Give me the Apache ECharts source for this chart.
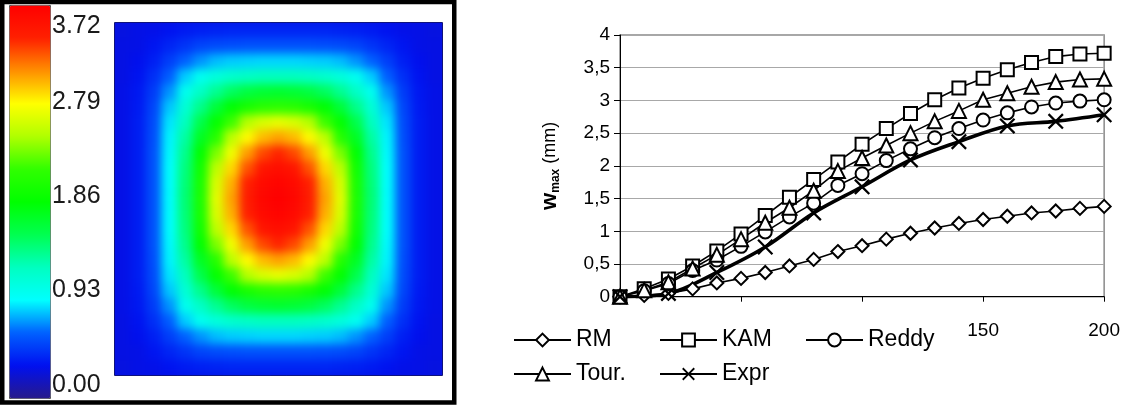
<!DOCTYPE html>
<html>
<head>
<meta charset="utf-8">
<script src="https://cdn.jsdelivr.net/npm/echarts@6.0.0/dist/echarts.min.js"></script>
<style>
html, body { margin: 0; padding: 0; background: #fff; }
#wrap { position: relative; width: 1123px; height: 405px; }
#main { position: absolute; left: 0; top: 0; width: 1123px; height: 405px; }
#fieldClip { position: absolute; left: 115px; top: 23px; width: 327px; height: 352px; overflow: hidden; pointer-events: none; }
#field { position: absolute; left: -24px; top: -24px; width: 375px; height: 400px; filter: blur(5px); }
</style>
</head>
<body>
<div id="wrap">
  <div id="main"></div>
  <div id="fieldClip"><div id="field"></div></div>
</div>
<script>
// deflection field of the plate (mm), 23 rows x 21 columns, top row first
var field = [
  [0.26,0.28,0.29,0.32,0.35,0.37,0.38,0.39,0.39,0.39,0.39,0.39,0.39,0.39,0.38,0.37,0.35,0.32,0.29,0.28,0.26],
  [0.27,0.28,0.33,0.39,0.45,0.51,0.54,0.55,0.56,0.56,0.56,0.56,0.56,0.55,0.54,0.51,0.45,0.39,0.33,0.28,0.27],
  [0.27,0.30,0.37,0.49,0.62,0.72,0.80,0.83,0.84,0.85,0.85,0.85,0.84,0.83,0.80,0.72,0.62,0.49,0.37,0.30,0.27],
  [0.27,0.32,0.43,0.61,0.83,1.00,1.10,1.17,1.21,1.24,1.24,1.24,1.21,1.17,1.10,1.00,0.83,0.61,0.43,0.32,0.27],
  [0.28,0.34,0.48,0.72,1.01,1.21,1.37,1.51,1.61,1.66,1.68,1.66,1.61,1.51,1.37,1.21,1.01,0.72,0.48,0.34,0.28],
  [0.28,0.35,0.52,0.82,1.13,1.39,1.64,1.85,2.00,2.11,2.14,2.11,2.00,1.85,1.64,1.39,1.13,0.82,0.52,0.35,0.28],
  [0.28,0.36,0.54,0.88,1.24,1.57,1.88,2.20,2.50,2.64,2.70,2.64,2.50,2.20,1.88,1.57,1.24,0.88,0.54,0.36,0.28],
  [0.28,0.36,0.55,0.91,1.32,1.73,2.10,2.54,2.80,2.98,3.05,2.98,2.80,2.54,2.10,1.73,1.32,0.91,0.55,0.36,0.28],
  [0.28,0.36,0.56,0.92,1.38,1.86,2.35,2.74,3.06,3.30,3.40,3.30,3.06,2.74,2.35,1.86,1.38,0.92,0.56,0.36,0.28],
  [0.28,0.36,0.56,0.93,1.42,1.95,2.53,2.90,3.27,3.52,3.58,3.52,3.27,2.90,2.53,1.95,1.42,0.93,0.56,0.36,0.28],
  [0.28,0.36,0.56,0.93,1.44,2.00,2.64,3.01,3.42,3.62,3.68,3.62,3.42,3.01,2.64,2.00,1.44,0.93,0.56,0.36,0.28],
  [0.28,0.36,0.56,0.93,1.45,2.02,2.68,3.05,3.45,3.65,3.72,3.65,3.45,3.05,2.68,2.02,1.45,0.93,0.56,0.36,0.28],
  [0.28,0.36,0.56,0.93,1.44,2.00,2.64,3.01,3.42,3.62,3.68,3.62,3.42,3.01,2.64,2.00,1.44,0.93,0.56,0.36,0.28],
  [0.28,0.36,0.56,0.93,1.42,1.95,2.53,2.90,3.27,3.52,3.58,3.52,3.27,2.90,2.53,1.95,1.42,0.93,0.56,0.36,0.28],
  [0.28,0.36,0.56,0.92,1.38,1.86,2.35,2.74,3.06,3.30,3.40,3.30,3.06,2.74,2.35,1.86,1.38,0.92,0.56,0.36,0.28],
  [0.28,0.36,0.55,0.91,1.32,1.73,2.10,2.54,2.80,2.98,3.05,2.98,2.80,2.54,2.10,1.73,1.32,0.91,0.55,0.36,0.28],
  [0.28,0.36,0.54,0.88,1.24,1.57,1.88,2.20,2.50,2.64,2.70,2.64,2.50,2.20,1.88,1.57,1.24,0.88,0.54,0.36,0.28],
  [0.28,0.35,0.52,0.82,1.13,1.39,1.64,1.85,2.00,2.11,2.14,2.11,2.00,1.85,1.64,1.39,1.13,0.82,0.52,0.35,0.28],
  [0.28,0.34,0.48,0.72,1.01,1.21,1.37,1.51,1.61,1.66,1.68,1.66,1.61,1.51,1.37,1.21,1.01,0.72,0.48,0.34,0.28],
  [0.27,0.32,0.43,0.61,0.83,1.00,1.10,1.17,1.21,1.24,1.24,1.24,1.21,1.17,1.10,1.00,0.83,0.61,0.43,0.32,0.27],
  [0.27,0.30,0.37,0.49,0.62,0.72,0.80,0.83,0.84,0.85,0.85,0.85,0.84,0.83,0.80,0.72,0.62,0.49,0.37,0.30,0.27],
  [0.27,0.28,0.33,0.39,0.45,0.51,0.54,0.55,0.56,0.56,0.56,0.56,0.56,0.55,0.54,0.51,0.45,0.39,0.33,0.28,0.27],
  [0.26,0.28,0.29,0.32,0.35,0.37,0.38,0.39,0.39,0.39,0.39,0.39,0.39,0.39,0.38,0.37,0.35,0.32,0.29,0.28,0.26]
];
var colorbarLabels = ['3.72', '2.79', '1.86', '0.93', '0.00'];

// w_max (mm) against load
var load = [0, 10, 20, 30, 40, 50, 60, 70, 80, 90, 100, 110, 120, 130, 140, 150, 160, 170, 180, 190, 200];
var rm    = [0, 0.02, 0.05, 0.12, 0.21, 0.28, 0.37, 0.47, 0.57, 0.69, 0.78, 0.88, 0.97, 1.05, 1.12, 1.18, 1.23, 1.28, 1.31, 1.35, 1.38];
var kam   = [0, 0.12, 0.27, 0.47, 0.70, 0.96, 1.24, 1.52, 1.79, 2.06, 2.33, 2.57, 2.80, 3.01, 3.19, 3.34, 3.47, 3.58, 3.67, 3.71, 3.72];
var reddy = [0, 0.09, 0.20, 0.40, 0.56, 0.77, 0.99, 1.22, 1.43, 1.70, 1.88, 2.08, 2.26, 2.43, 2.57, 2.70, 2.81, 2.90, 2.96, 2.99, 3.01];
var tour  = [0, 0.10, 0.22, 0.43, 0.64, 0.88, 1.13, 1.36, 1.62, 1.92, 2.12, 2.31, 2.50, 2.68, 2.84, 3.01, 3.11, 3.21, 3.28, 3.32, 3.33];
var loadExpr = [0, 20, 40, 60, 80, 100, 120, 140, 160, 180, 200];
var expr  = [0, 0.05, 0.37, 0.76, 1.28, 1.68, 2.09, 2.37, 2.61, 2.68, 2.78];

var heatData = [];
field.forEach(function (row, r) {
  row.forEach(function (v, c) { heatData.push([c, r, v]); });
});
function pairs(xs, ys) { return xs.map(function (x, i) { return [x, ys[i]]; }); }

var FONT = 'Liberation Sans, Arial, sans-serif';
var crossPath = 'path://M0,1.2L1.2,0L6,4.8L10.8,0L12,1.2L7.2,6L12,10.8L10.8,12L6,7.2L1.2,12L0,10.8L4.8,6Z';
var labelY = [26, 102, 196, 290, 385];
var palette = ['#281a8a', '#0010f0', '#0060ff', '#00ffff', '#00ffc0', '#00ff50', '#00ff00',
               '#30ff00', '#b0ff00', '#ffff00', '#ff9000', '#ff2000', '#ff0000'];

var colsIdx = field[0].map(function (d, i) { return i; });
var rowsIdx = field.map(function (d, i) { return i; });

function lineSeries(name, data, symbol, size) {
  return {
    name: name, type: 'line', xAxisIndex: 1, yAxisIndex: 1,
    data: data, symbol: symbol, symbolSize: size, showAllSymbol: true,
    lineStyle: { color: '#000', width: 1.6 },
    itemStyle: { color: '#000', borderColor: '#000', borderWidth: 1.5 },
    emphasis: { disabled: true }
  };
}

var legendBase = {
  orient: 'vertical', top: 328, padding: 0, itemWidth: 57, itemHeight: 16, itemGap: 10,
  selectedMode: false,
  textStyle: { fontSize: 23, color: '#000', fontFamily: FONT, lineHeight: 24 }
};

var chart = echarts.init(document.getElementById('main'));
var option = {
  animation: false,
  backgroundColor: '#fff',
  textStyle: { fontFamily: FONT },
  grid: [
    { left: 115, top: 23, width: 327, height: 352 },
    { left: 620, top: 35, width: 485, height: 261.7, show: true, borderColor: '#8a8a8a', borderWidth: 1.5 }
  ],
  xAxis: [
    { gridIndex: 0, type: 'category', data: colsIdx, show: false },
    {
      gridIndex: 1, type: 'value', min: 0, max: 200, interval: 50,
      axisLine: { lineStyle: { color: '#000', width: 1 } },
      axisTick: { length: 5, lineStyle: { color: '#000' } },
      axisLabel: {
        margin: 25, fontSize: 19, color: '#000',
        formatter: function (v) { return v >= 150 ? String(v) : ''; }
      },
      splitLine: { show: false }
    }
  ],
  yAxis: [
    { gridIndex: 0, type: 'category', data: rowsIdx, show: false, inverse: true },
    {
      gridIndex: 1, type: 'value', min: 0, max: 4, interval: 0.5,
      axisLine: { show: true, lineStyle: { color: '#000', width: 1 } },
      axisTick: { show: true, length: 6, lineStyle: { color: '#000' } },
      axisLabel: {
        margin: 10, fontSize: 19, color: '#000',
        formatter: function (v) { return String(v).replace('.', ','); }
      },
      splitLine: { show: true, lineStyle: { color: '#a8a8a8', width: 1 } },
      name: '{w|w}{s|max}{n| (mm)}',
      nameLocation: 'middle', nameRotate: 90, nameGap: 58,
      nameTextStyle: {
        rich: {
          w: { fontSize: 22, fontWeight: 'bold', color: '#000', lineHeight: 24, fontFamily: FONT },
          s: { fontSize: 12, fontWeight: 'bold', color: '#000', lineHeight: 12, verticalAlign: 'bottom', fontFamily: FONT },
          n: { fontSize: 18, color: '#000', lineHeight: 24, fontFamily: FONT }
        }
      }
    }
  ],
  visualMap: {
    type: 'continuous', seriesIndex: 0, min: 0, max: 3.72, calculable: false,
    left: 9, top: 5, itemWidth: 41, itemHeight: 393, padding: 0,
    borderColor: '#555', borderWidth: 1, text: null, showLabel: false,
    inRange: { color: palette }
  },
  legend: [
    Object.assign({ data: ['RM', 'Tour.'], left: 513 }, legendBase),
    Object.assign({ data: ['KAM', 'Expr'], left: 659 }, legendBase),
    Object.assign({ data: ['Reddy'], left: 805 }, legendBase)
  ],
  graphic: [
    { type: 'rect', shape: { x: 2.25, y: 2, width: 452, height: 400.5 },
      style: { fill: 'none', stroke: '#000', lineWidth: 4.5 }, silent: true },
    { type: 'rect', shape: { x: 114.5, y: 22.5, width: 328, height: 353 },
      style: { fill: 'none', stroke: '#14145a', lineWidth: 1 }, silent: true }
  ].concat(colorbarLabels.map(function (t, i) {
    return { type: 'text', x: 52, y: labelY[i], silent: true,
      style: { text: t, fontSize: 25, fill: '#1a1a1a', fontFamily: FONT, verticalAlign: 'middle' } };
  })),
  series: [
    { type: 'heatmap', xAxisIndex: 0, yAxisIndex: 0, data: heatData, emphasis: { disabled: true } },
    lineSeries('RM', pairs(load, rm), 'emptyDiamond', 13),
    lineSeries('KAM', pairs(load, kam), 'emptyRect', 13),
    lineSeries('Reddy', pairs(load, reddy), 'emptyCircle', 13),
    lineSeries('Tour.', pairs(load, tour), 'emptyTriangle', 14),
    {
      name: 'Expr', type: 'line', xAxisIndex: 1, yAxisIndex: 1,
      data: pairs(loadExpr, expr), smooth: 0.35,
      symbol: crossPath, symbolSize: 16, showAllSymbol: true,
      lineStyle: { color: '#000', width: 3.6 },
      itemStyle: { color: '#000' },
      emphasis: { disabled: true }
    }
  ]
};
chart.setOption(option);

// the same field drawn again under a soft blur, so the cells read as a smooth contour plot
var fieldChart = echarts.init(document.getElementById('field'));
fieldChart.setOption({
  animation: false,
  backgroundColor: '#0511e3',
  grid: { left: 24, top: 24, width: 327, height: 352 },
  xAxis: { type: 'category', data: colsIdx, show: false },
  yAxis: { type: 'category', data: rowsIdx, show: false, inverse: true },
  visualMap: { type: 'continuous', show: false, min: 0, max: 3.72, inRange: { color: palette } },
  series: [{ type: 'heatmap', data: heatData, emphasis: { disabled: true } }]
});
</script>
</body>
</html>
